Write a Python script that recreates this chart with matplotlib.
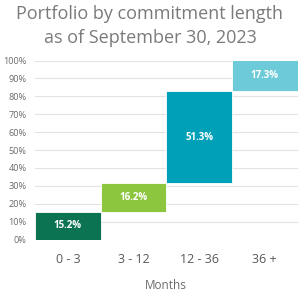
import matplotlib
matplotlib.use("Agg")
import matplotlib.pyplot as plt
import numpy as np

categories = ["0 - 3", "3 - 12", "12 - 36", "36 +"]
values = [15.2, 16.2, 51.3, 17.3]
colors = ["#0b7352", "#8cc63f", "#00a0b9", "#6ccad9"]
yticks = [0, 10, 20, 30, 40, 50, 60, 70, 80, 90, 100]

plt.rcParams['font.family'] = ['Open Sans', 'DejaVu Sans']

fig = plt.figure(figsize=(3.0, 2.91), dpi=100)
ax = fig.add_axes([35/300, 1-239.5/291, 262.5/300, 179/291])

bottoms = np.concatenate([[0], np.cumsum(values)[:-1]])
x = np.arange(len(categories))
ax.bar(x, values, bottom=bottoms, width=1.0, color=colors, edgecolor="white", linewidth=0.6, zorder=3)
for xi, b, v in zip(x, bottoms, values):
    ax.text(xi, b + v/2, f"{v:.1f}%", ha="center", va="center", color="white",
            fontsize=7, fontweight="bold", zorder=4)

ax.set_xlim(-0.5, len(categories) - 0.5)
ax.set_ylim(0, 100)
ax.set_yticks(yticks)
ax.set_yticklabels([f"{t}%" for t in yticks], fontsize=6.6, color="#6a6a6a")
ax.set_xticks(x)
ax.set_xticklabels(categories, fontsize=9, color="#595959")
ax.tick_params(axis="both", length=0)
ax.tick_params(axis="y", pad=6)
ax.tick_params(axis="x", pad=10)
ax.grid(axis="y", color="#e3e3e3", linewidth=0.8, zorder=0)
for s in ax.spines.values():
    s.set_visible(False)
ax.set_xlabel("Months", fontsize=8.5, color="#6a6a6a", labelpad=9)

fig.text(0.5, 0.952, "Portfolio by commitment length", ha="center", va="center",
         fontsize=13, color="#7a7a7a")
fig.text(0.5, 0.870, "as of September 30, 2023", ha="center", va="center",
         fontsize=13, color="#7a7a7a")

fig.savefig("out.png", dpi=100, facecolor="white")
